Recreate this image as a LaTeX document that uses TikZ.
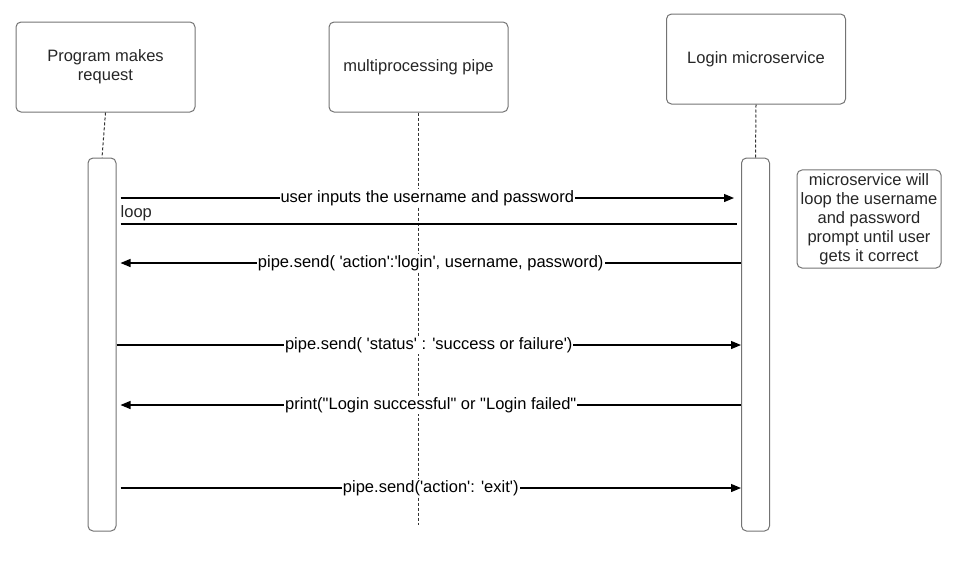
\documentclass[tikz,border=0pt]{standalone}
\usepackage{fontspec}
\setmainfont{Liberation Sans}
\usetikzlibrary{arrows.meta}

\newcommand{\sq}{\textquotesingle}
\newcommand{\dq}{\textquotedbl}

\tikzset{
  actor/.style={draw=black!55, rounded corners=5pt, minimum width=179pt, minimum height=90pt, align=center, line width=1pt},
  bar/.style={draw=black!55, rounded corners=5pt, minimum width=28pt, minimum height=373pt, line width=1pt},
  note/.style={draw=black!55, rounded corners=5pt, minimum width=144pt, minimum height=98pt, align=center, line width=1pt},
  life/.style={black!80, dash pattern=on 3pt off 2pt, line width=1pt},
  msg/.style={black, line width=1.2pt, -{Triangle[length=10pt,width=8pt]}},
  plain/.style={black, line width=1.2pt},
  lbl/.style={fill=white, inner sep=1pt}
}

\begin{document}
\begin{tikzpicture}[x=1pt, y=-1pt, font=\fontsize{16.5}{19}\selectfont, text=black!85]

\useasboundingbox (0,0) rectangle (965,568);

\node(prog)[actor] at (105.5,67) {Program makes\\request};
\node(pipe)[actor] at (418.5,67) {multiprocessing pipe};
\node(login)[actor] at (756,59) {Login microservice};

\node(progbar)[bar] at (102,344.5) {};
\node(loginbar)[bar] at (755.5,344.5) {};

\coordinate(pipeend) at (418.5,525);

\draw[life] (prog.south) -- (progbar.north);
\draw[life] (login.south) -- (loginbar.north);
\draw[life] (pipe.south) -- (pipeend);

\node(loopnote)[note] at (869,219) {microservice will\\loop the username\\and password\\prompt until user\\gets it correct};

\draw[msg] ([xshift=4pt]progbar.east |- 0,198) -- node[lbl]{user inputs the username and password} ([xshift=-7pt]loginbar.west |- 0,198);

\draw[plain] ([xshift=4pt]progbar.east |- 0,224) -- ([xshift=-4pt]loginbar.west |- 0,224);
\node(looplbl)[anchor=west, inner sep=0pt] at ([xshift=4pt]progbar.east |- 0,213) {loop};

\draw[msg] (loginbar.west |- 0,263) -- node[lbl]{pipe.send( \sq action\sq:\sq login\sq, username, password)} ([xshift=4pt]progbar.east |- 0,263);

\draw[msg] (progbar.east |- 0,345) -- node[lbl]{pipe.send( \sq status\sq\ : \sq success or failure\sq)} (loginbar.west |- 0,345);

\draw[msg] (loginbar.west |- 0,405) -- node[lbl]{print(\dq Login successful\dq\ or \dq Login failed\dq} ([xshift=4pt]progbar.east |- 0,405);

\draw[msg] ([xshift=4pt]progbar.east |- 0,488) -- node[lbl]{pipe.send(\sq action\sq: \sq exit\sq)} (loginbar.west |- 0,488);

\end{tikzpicture}
\end{document}
